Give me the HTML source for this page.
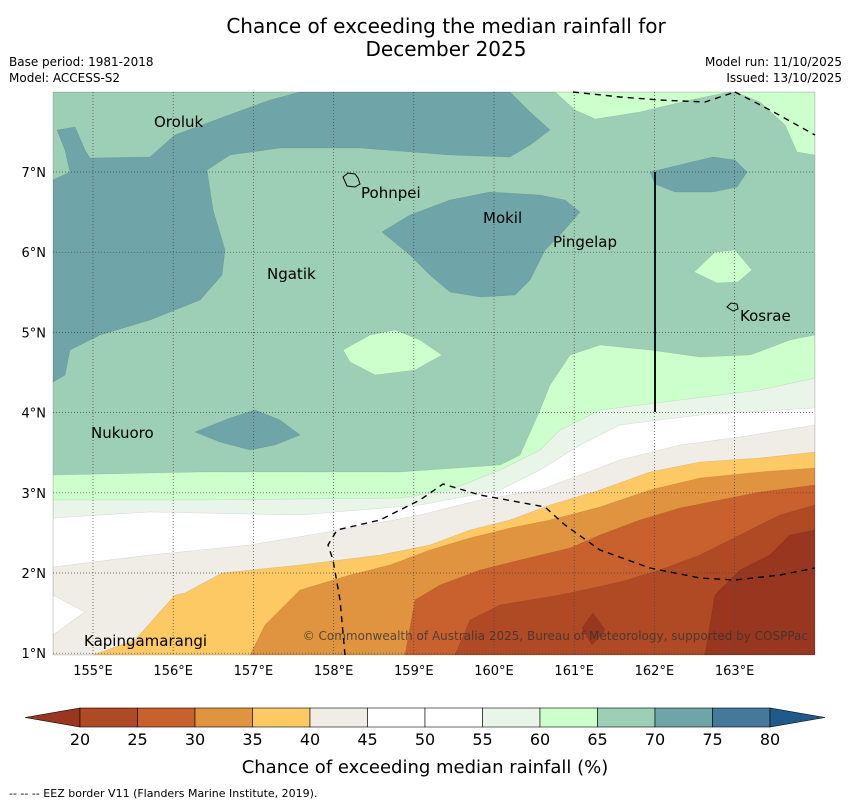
<!DOCTYPE html>
<html><head><meta charset="utf-8"><style>
body{margin:0;background:#fff;font-family:"Liberation Sans","DejaVu Sans",sans-serif;}
svg text{font-family:"DejaVu Sans","Liberation Sans",sans-serif;}
</style></head><body>
<svg width="850" height="804" viewBox="0 0 850 804">
<text x="446" y="33" text-anchor="middle" font-size="20">Chance of exceeding the median rainfall for</text>
<text x="446" y="56" text-anchor="middle" font-size="20">December 2025</text>
<text x="9" y="66" font-size="12">Base period: 1981-2018</text>
<text x="9" y="82" font-size="12">Model: ACCESS-S2</text>
<text x="842" y="66" font-size="12" text-anchor="end">Model run: 11/10/2025</text>
<text x="842" y="82" font-size="12" text-anchor="end">Issued: 13/10/2025</text>
<defs><clipPath id="mc"><rect x="53" y="92" width="762" height="563"/></clipPath></defs>
<g clip-path="url(#mc)" id="map"></g>
<g id="overlay"></g>
<g id="cbar"></g>
<text x="425" y="773" text-anchor="middle" font-size="18">Chance of exceeding median rainfall (%)</text>
<text x="9" y="797" font-size="11">--  --  -- EEZ border V11 (Flanders Marine Institute, 2019).</text>
</svg>
<script>
const NS="http://www.w3.org/2000/svg";
// colorbar data
const levels=[20,25,30,35,40,45,50,55,60,65,70,75,80];
const colors=["#b04a25","#c9612f","#e09440","#fdc964","#f0ece6","#ffffff","#ffffff","#eaf5ea","#ccffcc","#9dcfb7","#6fa5a8","#44799a"];
const lonTicks=[155,156,157,158,159,160,161,162,163];
const latTicks=[1,2,3,4,5,6,7];
// filled contour regions (pixel outlines of bands)
const bands=[
 {c:"#ccffcc",p:[[53,475],[200,472],[400,472],[500,465],[520,455],[540,410],[550,385],[570,355],[600,345],[650,350],[700,357],[750,355],[790,340],[815,335],[815,655],[53,655]]},
 {c:"#eaf5ea",p:[[53,500],[200,500],[400,498],[450,490],[500,470],[540,450],[560,430],[600,410],[680,400],[760,390],[815,378],[815,655],[53,655]]},
 {c:"#ffffff",p:[[53,518],[150,512],[300,515],[420,505],[500,490],[540,470],[580,445],[620,425],[700,415],[815,408],[815,655],[53,655]]},
 {c:"#f0ece6",p:[[53,567],[150,555],[250,545],[340,530],[420,515],[480,500],[540,490],[580,475],[620,460],[680,445],[740,437],[815,425],[815,655],[53,655]]},
 {c:"#ffffff",p:[[53,595],[85,612],[53,635]]},
 {c:"#fdc964",p:[[93,655],[135,640],[175,595],[185,593],[222,573],[300,565],[380,555],[430,545],[470,530],[510,520],[550,505],[600,490],[650,472],[700,462],[760,458],[815,452],[815,655]]},
 {c:"#e09440",p:[[250,655],[265,625],[300,590],[350,575],[390,565],[430,550],[470,538],[510,528],[550,520],[600,507],[650,490],[700,478],[760,472],[815,468],[815,655]]},
 {c:"#c9612f",p:[[405,655],[415,600],[440,585],[480,570],[520,560],[570,548],[600,535],[640,520],[680,508],[720,500],[760,492],[815,485],[815,655]]},
 {c:"#b04a25",p:[[455,655],[470,620],[500,605],[560,595],[620,582],[660,570],[700,555],[740,535],[780,515],[815,505],[815,655]]},
 {c:"#98361f",p:[[705,655],[715,595],[740,570],[770,555],[790,535],[815,530],[815,655]]},
 {c:"#98361f",p:[[582,628],[593,613],[605,630],[592,645]]},
 {c:"#6fa5a8",p:[[57,130],[75,127],[85,150],[90,158],[150,157],[175,135],[210,122],[270,100],[300,92],[510,92],[530,112],[550,130],[530,145],[510,157],[450,155],[360,148],[280,148],[230,155],[207,170],[213,210],[225,250],[222,275],[200,300],[150,320],[100,335],[70,350],[65,375],[53,382],[53,180],[70,172],[65,150]]},
 {c:"#6fa5a8",p:[[382,232],[410,215],[450,200],[490,192],[540,195],[565,200],[580,212],[560,235],[545,250],[530,280],[515,295],[480,297],[450,292],[430,275],[410,255]]},
 {c:"#6fa5a8",p:[[650,172],[700,160],[713,157],[735,160],[747,172],[737,187],[713,192],[675,192],[655,184]]},
 {c:"#6fa5a8",p:[[195,432],[230,418],[255,410],[280,420],[300,435],[275,445],[250,450],[220,442]]},
 {c:"#ccffcc",p:[[555,92],[575,110],[595,119],[640,112],[690,100],[730,92]]},
 {c:"#ccffcc",p:[[735,92],[760,102],[785,125],[797,152],[815,155],[815,92]]},
 {c:"#ccffcc",p:[[694,272],[715,252],[735,250],[752,270],[738,282],[717,283]]},
 {c:"#ccffcc",p:[[343,350],[370,335],[395,330],[420,340],[442,355],[415,370],[375,375],[350,362]]}
];
const lonX=l=>93+(l-155)*80.2, latY=l=>172+(7-l)*80.2;
function el(t,a,parent){const e=document.createElementNS(NS,t);for(const k in a)e.setAttribute(k,a[k]);parent.appendChild(e);return e;}
const map=document.getElementById('map');
const bg=el('rect',{x:53,y:92,width:762,height:563,fill:"#9dcfb7"},map);


bands.forEach((b,i)=>{
 const e=el('polygon',{points:b.p.map(q=>q.join(',')).join(' '),fill:b.c,stroke:"rgba(0,0,0,0.12)","stroke-width":0.6},map);
 
 
});
const ov=document.getElementById('overlay');
lonTicks.forEach(l=>{const x=lonX(l);
 const g=el('line',{x1:x,y1:92,x2:x,y2:655,stroke:"#444","stroke-width":0.7,"stroke-dasharray":"1,2"},ov);
 
 const t=el('text',{x:x,y:675,"text-anchor":"middle","font-size":13},ov);t.textContent=l+"°E";
 });
latTicks.forEach(l=>{const y=latY(l);
 const g=el('line',{x1:53,y1:y,x2:815,y2:y,stroke:"#444","stroke-width":0.7,"stroke-dasharray":"1,2"},ov);
 
 const t=el('text',{x:46,y:y+5,"text-anchor":"end","font-size":13},ov);t.textContent=l+"°N";
 });
const dashes=[[[573,92],[620,97],[660,100],[705,102],[735,92]],[[735,92],[770,110],[815,135]],
 [[345,655],[340,600],[333,560],[328,545],[337,530],[380,520],[420,500],[443,484],[480,495],[545,507],[565,525],[600,550],[650,568],[700,578],[735,580],[780,575],[815,568]]];
dashes.forEach(d=>{const e=el('polyline',{points:d.map(q=>q.join(',')).join(' '),fill:"none",stroke:"#000","stroke-width":1.4,"stroke-dasharray":"6,5"},ov);
 });
const bl=el('line',{x1:655,y1:172,x2:655,y2:412,stroke:"#111","stroke-width":2},ov);

const islands=[["Oroluk",154,127],["Pohnpei",361,198],["Mokil",483,223],["Pingelap",553,247],["Ngatik",267,279],["Kosrae",740,321],["Nukuoro",91,438],["Kapingamarangi",84,646]];
islands.forEach(s=>{const t=el('text',{x:s[1],y:s[2],"font-size":15},ov);t.textContent=s[0];
 });
const p1=el('path',{d:"M343,177 l5,-4 l7,1 l3,4 l2,6 l-5,3 l-8,-1 z",fill:"none",stroke:"#000","stroke-width":1},ov);

const p2=el('path',{d:"M727,307 l4,-4 l6,1 l1,5 l-5,2 z",fill:"none",stroke:"#000","stroke-width":1},ov);

const cr=el('text',{x:808,y:640,"text-anchor":"end","font-size":12,fill:"#333","fill-opacity":0.8},ov);
cr.textContent="© Commonwealth of Australia 2025, Bureau of Meteorology, supported by COSPPac";

const fr=el('rect',{x:53,y:92,width:762,height:563,fill:"none",stroke:"#000","stroke-width":0.5,"stroke-opacity":0.3},ov);

// colorbar
const cb=document.getElementById('cbar');const cx0=80,cw=57.5,cy=708,ch=19;
const lt=el('polygon',{points:`${cx0},${cy} ${cx0},${cy+ch} 25,${cy+ch/2}`,fill:"#98361f",stroke:"#000","stroke-width":0.6},cb);

colors.forEach((c,i)=>{const r=el('rect',{x:cx0+i*cw,y:cy,width:cw,height:ch,fill:c,stroke:"#000","stroke-width":0.6},cb);
 });
const rt=el('polygon',{points:`${cx0+12*cw},${cy} ${cx0+12*cw},${cy+ch} 825,${cy+ch/2}`,fill:"#1f5a8a",stroke:"#000","stroke-width":0.6},cb);

levels.forEach((v,i)=>{if(i%2)return;const t=el('text',{x:cx0+i*cw,y:745,"text-anchor":"middle","font-size":16},cb);t.textContent=v;
 });
levels.forEach((v,i)=>{if(!(i%2))return;const t=el('text',{x:cx0+i*cw,y:745,"text-anchor":"middle","font-size":16},cb);t.textContent=v;
 });
</script>
</body></html>
